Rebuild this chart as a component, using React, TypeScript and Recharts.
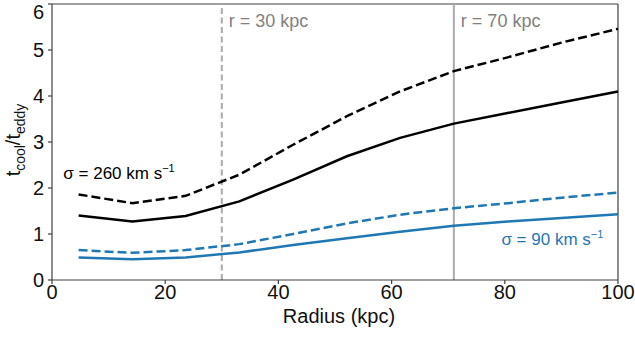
import React from 'react';
import { LineChart, Line, XAxis, YAxis, ReferenceLine, ReferenceDot } from 'recharts';

// radius in kpc, ratios
const radius = [4.7, 14.2, 23.6, 33.1, 42.6, 52.1, 61.5, 71.0, 80.5, 90.0, 100];
const sigma260Dashed = [1.86, 1.67, 1.83, 2.29, 2.94, 3.56, 4.1, 4.54, 4.84, 5.16, 5.46];
const sigma260Solid = [1.4, 1.27, 1.39, 1.71, 2.18, 2.69, 3.09, 3.4, 3.63, 3.86, 4.1];
const sigma90Dashed = [0.65, 0.59, 0.65, 0.78, 1.0, 1.23, 1.42, 1.56, 1.67, 1.79, 1.9];
const sigma90Solid = [0.49, 0.45, 0.49, 0.6, 0.76, 0.91, 1.05, 1.18, 1.27, 1.35, 1.43];

const xTicks = [0, 20, 40, 60, 80, 100];
const yTicks = [0, 1, 2, 3, 4, 5, 6];
const markerRadii = [30, 71];

const FONT = '"Liberation Sans", Arial, Helvetica, sans-serif';
const BLUE = '#1f77b4';
const AXIS = '#404040';
const GREY_LINE = '#aaaaaa';
const GREY_TEXT = '#808080';

const data = radius.map((r, i) => ({
  r,
  hiDash: sigma260Dashed[i],
  hiSolid: sigma260Solid[i],
  loDash: sigma90Dashed[i],
  loSolid: sigma90Solid[i],
}));

const tickStyle = { fontSize: 20, fill: '#111', fontFamily: FONT };

const YLabel = () => (
  <text
    x={20}
    y={140}
    transform="rotate(-90, 20, 140)"
    textAnchor="middle"
    fontFamily={FONT}
    fontSize={20}
    fill="#111"
  >
    t
    <tspan dy={5} fontSize={14}>cool</tspan>
    <tspan dy={-5}>/t</tspan>
    <tspan dy={5} fontSize={14}>eddy</tspan>
  </text>
);

const XLabel = () => (
  <text x={339} y={323} textAnchor="middle" fontFamily={FONT} fontSize={20} fill="#111">
    Radius (kpc)
  </text>
);

const markerLabel = (text: string) => (props: any) => {
  const vb = props.viewBox || {};
  return (
    <text x={vb.x + 7} y={27} fontFamily={FONT} fontSize={18} fill={GREY_TEXT}>
      {text}
    </text>
  );
};

const sigmaLabel = (value: string, color: string) => (props: any) => {
  const vb = props.viewBox || {};
  return (
    <text x={vb.x} y={vb.y} fontFamily={FONT} fontSize={17} fill={color}>
      {'σ = ' + value + ' km s'}
      <tspan dy={-7} fontSize={11}>−1</tspan>
    </text>
  );
};

export default function App() {
  return (
    <div style={{ position: 'absolute', left: 0, top: 0, background: '#fff' }}>
      <LineChart
        width={635}
        height={340}
        data={data}
        margin={{ top: 4, right: 17, bottom: 0, left: 0 }}
      >
        <XAxis
          dataKey="r"
          type="number"
          domain={[0, 100]}
          ticks={xTicks}
          height={60}
          tickSize={4}
          tickMargin={1}
          tick={tickStyle}
          stroke={AXIS}
          strokeWidth={1.2}
          label={<XLabel />}
        />
        <YAxis
          type="number"
          domain={[0, 6]}
          ticks={yTicks}
          width={52}
          tickSize={4}
          tickMargin={4}
          tick={tickStyle}
          stroke={AXIS}
          strokeWidth={1.2}
          label={<YLabel />}
        />
        <ReferenceLine y={6} stroke={AXIS} strokeWidth={1.2} />
        <ReferenceLine x={100} stroke={AXIS} strokeWidth={1.2} />
        <ReferenceLine
          x={markerRadii[0]}
          stroke={GREY_LINE}
          strokeWidth={2}
          strokeDasharray="6 3.5"
          label={markerLabel('r = 30 kpc')}
        />
        <ReferenceLine
          x={markerRadii[1]}
          stroke={GREY_LINE}
          strokeWidth={2}
          label={markerLabel('r = 70 kpc')}
        />
        <Line
          dataKey="hiDash"
          stroke="#000"
          strokeWidth={2.5}
          strokeDasharray="9 4"
          dot={false}
          isAnimationActive={false}
        />
        <Line
          dataKey="hiSolid"
          stroke="#000"
          strokeWidth={2.5}
          dot={false}
          isAnimationActive={false}
        />
        <Line
          dataKey="loDash"
          stroke={BLUE}
          strokeWidth={2.5}
          strokeDasharray="9 4"
          dot={false}
          isAnimationActive={false}
        />
        <Line
          dataKey="loSolid"
          stroke={BLUE}
          strokeWidth={2.5}
          dot={false}
          isAnimationActive={false}
        />
        <ReferenceDot x={2} y={2.2} r={0} stroke="none" label={sigmaLabel('260', '#000')} />
        <ReferenceDot x={79.4} y={0.76} r={0} stroke="none" label={sigmaLabel('90', BLUE)} />
      </LineChart>
    </div>
  );
}
